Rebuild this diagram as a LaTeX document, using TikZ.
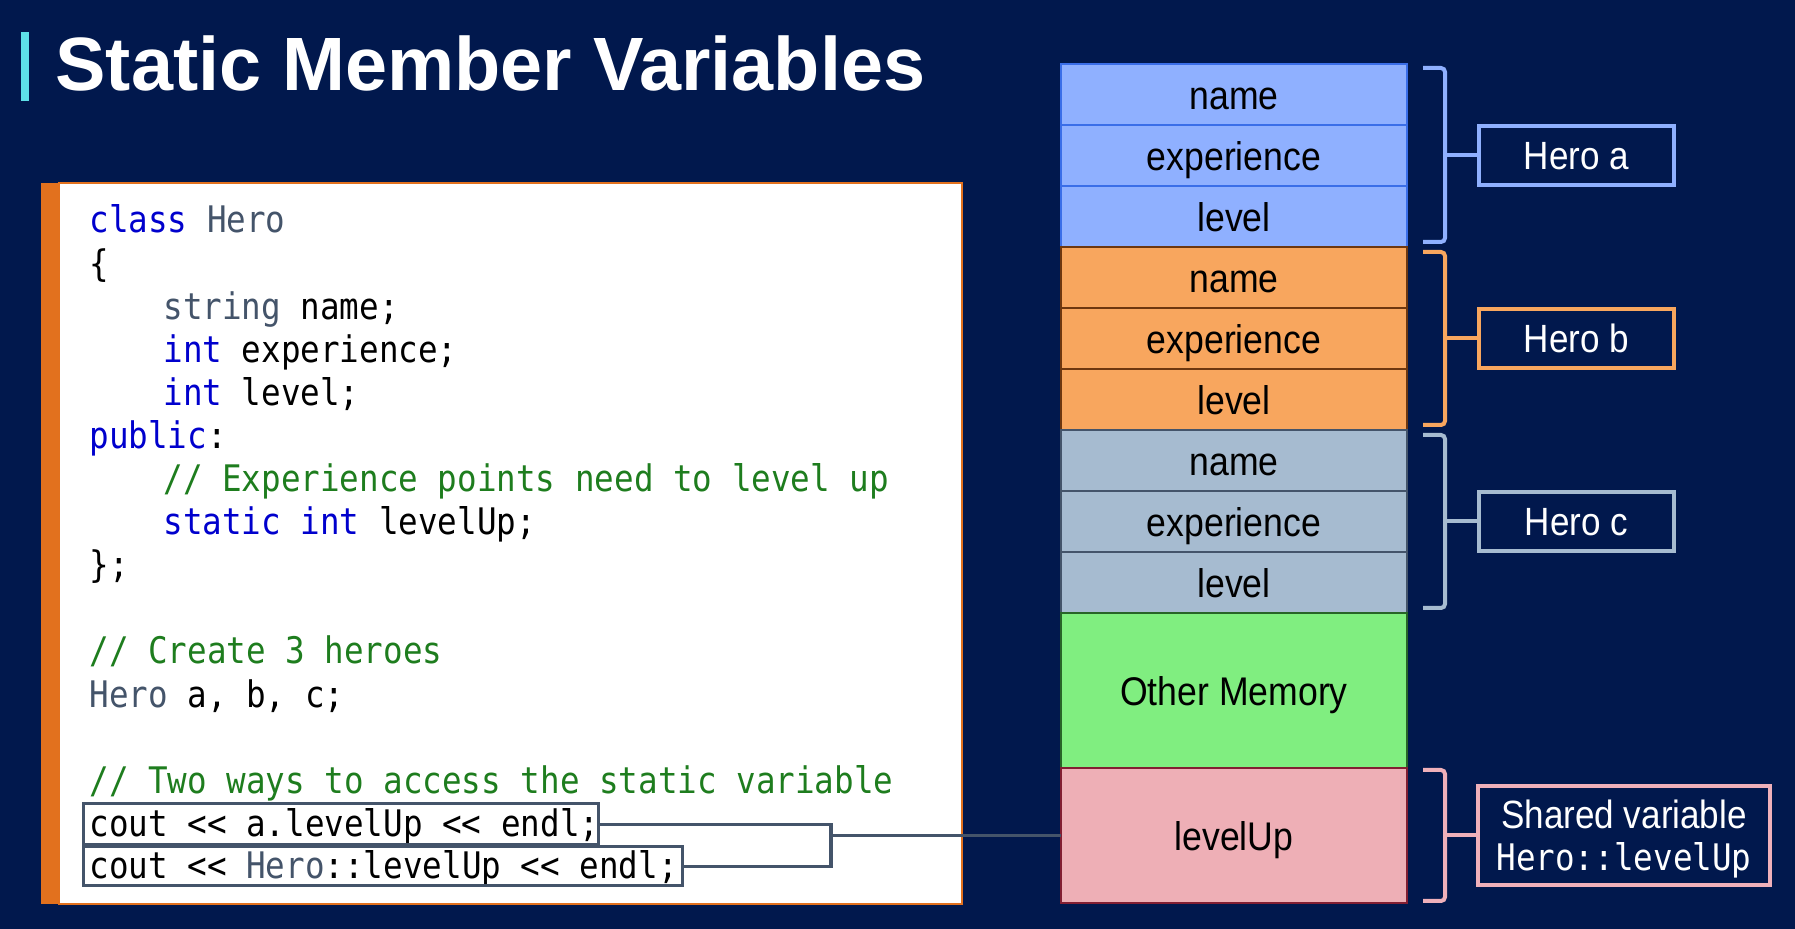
\documentclass[tikz,border=0pt]{standalone}
\usepackage{fontspec}
\setmainfont{Liberation Sans}
\setmonofont{DejaVu Sans Mono}[FakeStretch=0.89]
\newfontfamily\memfont{Liberation Sans}[FakeStretch=0.89]
\newfontfamily\titlefont{Liberation Sans}
\definecolor{navy}{RGB}{1,24,77}
\definecolor{cyanC}{RGB}{94,224,232}
\definecolor{orangeC}{RGB}{226,113,30}
\definecolor{blueFill}{RGB}{143,176,255}
\definecolor{blueLine}{RGB}{58,110,232}
\definecolor{orangeFill}{RGB}{248,166,94}
\definecolor{orangeLine}{RGB}{110,55,15}
\definecolor{grayFill}{RGB}{166,187,208}
\definecolor{grayLine}{RGB}{68,84,106}
\definecolor{greenFill}{RGB}{128,238,128}
\definecolor{greenLine}{RGB}{40,100,40}
\definecolor{pinkFill}{RGB}{238,175,182}
\definecolor{pinkLine}{RGB}{130,30,50}
\definecolor{pinkBr}{RGB}{239,176,186}
\definecolor{kwblue}{RGB}{0,0,205}
\definecolor{tygray}{RGB}{68,84,106}
\definecolor{cmgreen}{RGB}{30,125,30}
\newcommand{\kw}[1]{\textcolor{kwblue}{#1}}
\newcommand{\ty}[1]{\textcolor{tygray}{#1}}
\newcommand{\cm}[1]{\textcolor{cmgreen}{#1}}
\tikzset{
  codeline/.style={anchor=base west, inner sep=0pt, text=black,
    font=\ttfamily\fontsize{18.3pt}{21pt}\selectfont},
  memcell/.style={minimum width=173pt, minimum height=30.5pt, inner sep=0pt, outer sep=0pt,
    line width=1pt, text=black, text height=15.2pt, text depth=0.5pt,
    font=\memfont\fontsize{20pt}{24pt}\selectfont},
  herolabel/.style={draw=#1, fill=navy, line width=2.2pt, text=white, inner sep=0pt,
    minimum width=97.25pt, minimum height=29.25pt, text height=14.6pt, text depth=0.5pt,
    font=\memfont\fontsize{19.7pt}{22pt}\selectfont},
  bracket/.style={draw=#1, line width=2pt, rounded corners=2pt},
  cbox/.style={draw=grayLine, line width=1.5pt, inner sep=0pt},
  conn/.style={draw=grayLine, line width=1.6pt}
}
\begin{document}
\begin{tikzpicture}[x=0.5pt,y=-0.5pt]
\fill[navy] (0,0) rectangle (1795,929);
\useasboundingbox (0,0) rectangle (1795,929);
% title
\fill[cyanC] (21,32) rectangle (29,101);
\node[anchor=base west, inner sep=0pt, text=white, font=\titlefont\bfseries\fontsize{37.8pt}{41pt}\selectfont] (title) at (55,91) {Static Member Variables};
% code panel
\filldraw[fill=white, draw=orangeC, line width=0.6pt] (59,183) rectangle (962,904);
\fill[orangeC] (41,183) rectangle (59,904);
\node[codeline] (l0) at (89,233) {\kw{class} \ty{Hero}};
\node[codeline] (l1) at (89,276.1) {\{};
\node[codeline] (l2) at (163,319.2) {\ty{string} name;};
\node[codeline] (l3) at (163,362.3) {\kw{int} experience;};
\node[codeline] (l4) at (163,405.4) {\kw{int} level;};
\node[codeline] (l5) at (89,448.5) {\kw{public}:};
\node[codeline] (l6) at (163,491.6) {\cm{// Experience points need to level up}};
\node[codeline] (l7) at (163,534.7) {\kw{static} \kw{int} levelUp;};
\node[codeline] (l8) at (89,577.8) {\};};
\node[codeline] (l10) at (89,664) {\cm{// Create 3 heroes}};
\node[codeline] (l11) at (89,707.1) {\ty{Hero} a, b, c;};
\node[codeline] (l13) at (89,793.3) {\cm{// Two ways to access the static variable}};
\node[codeline] (l14) at (89,836.2) {cout << a.levelUp << endl;};
\node[codeline] (l15) at (89,879) {cout << \ty{Hero}::levelUp << endl;};
\node[cbox, minimum width=257.5pt, minimum height=20.5pt] (c1) at (341,824.5) {};
\node[cbox, minimum width=299.5pt, minimum height=19.5pt] (c2) at (383,866.5) {};
% memory column
\node[memcell, fill=blueFill, draw=blueLine] (a1) at (1234,94.5) {name};
\node[memcell, fill=blueFill, draw=blueLine] (a2) at (1234,155.5) {experience};
\node[memcell, fill=blueFill, draw=blueLine] (a3) at (1234,216.5) {level};
\node[memcell, fill=orangeFill, draw=orangeLine] (b1) at (1234,277.5) {name};
\node[memcell, fill=orangeFill, draw=orangeLine] (b2) at (1234,338.5) {experience};
\node[memcell, fill=orangeFill, draw=orangeLine] (b3) at (1234,399.5) {level};
\node[memcell, fill=grayFill, draw=grayLine] (g1) at (1234,460.5) {name};
\node[memcell, fill=grayFill, draw=grayLine] (g2) at (1234,521.5) {experience};
\node[memcell, fill=grayFill, draw=grayLine] (g3) at (1234,582.5) {level};
\node[memcell, fill=greenFill, draw=greenLine, minimum height=77.5pt] (om) at (1234,690.5) {Other Memory};
\node[memcell, fill=pinkFill, draw=pinkLine, minimum height=67.5pt] (lu) at (1234,835.5) {levelUp};
% connectors from code to memory
\coordinate (j) at (831,835.5);
\draw[conn] (c1.east) -| (j |- c2.east) -- (c2.east);
\draw[conn] (j) -- (lu.west);
% labels
\node[herolabel=blueFill] (ha) at (1576.5,155.5) {Hero a};
\node[herolabel=orangeFill] (hb) at (1576.5,338.5) {Hero b};
\node[herolabel=grayFill] (hc) at (1576.5,521.5) {Hero c};
\node[herolabel=pinkBr, minimum width=145.75pt, minimum height=49.25pt, align=center,
  text height=, text depth=] (sv) at (1624,835.5) {\rule{0pt}{18pt}Shared variable\\[-1pt]{\ttfamily\fontsize{18.3pt}{21pt}\selectfont Hero::levelUp}};
% brackets
\coordinate (ba) at (1445,155.5);
\coordinate (bb) at (1445,338.5);
\coordinate (bc) at (1445,521.5);
\coordinate (bp) at (1445,835.5);
\draw[bracket=blueFill] (1423,68) -- (1445,68) -- (1445,242) -- (1423,242);
\draw[bracket=blueFill] (ba) -- (ha.west);
\draw[bracket=orangeFill] (1423,252) -- (1445,252) -- (1445,425) -- (1423,425);
\draw[bracket=orangeFill] (bb) -- (hb.west);
\draw[bracket=grayFill] (1423,435) -- (1445,435) -- (1445,608) -- (1423,608);
\draw[bracket=grayFill] (bc) -- (hc.west);
\draw[bracket=pinkBr] (1423,770) -- (1445,770) -- (1445,901) -- (1423,901);
\draw[bracket=pinkBr] (bp) -- (sv.west);
\end{tikzpicture}
\end{document}
